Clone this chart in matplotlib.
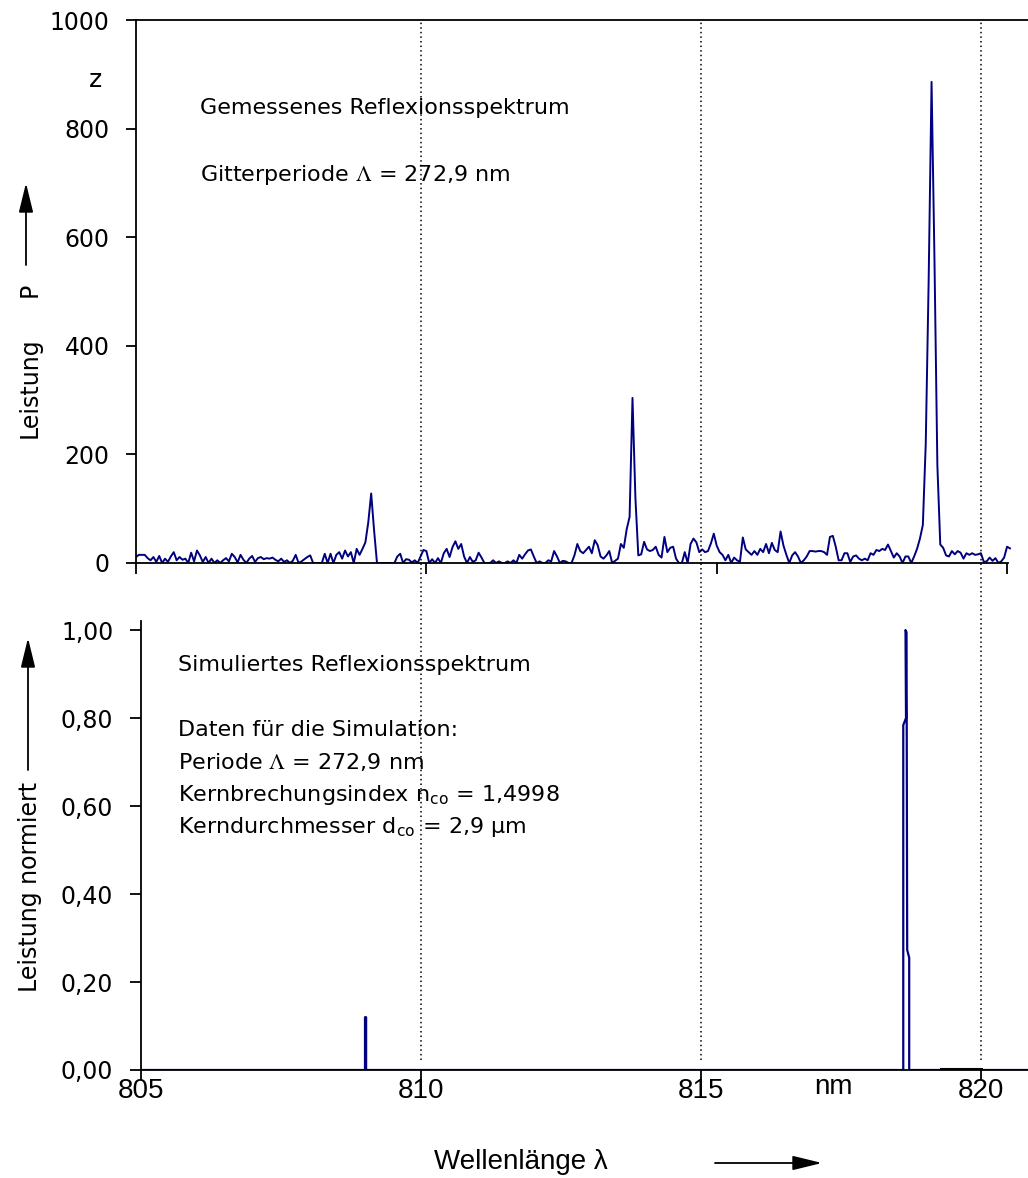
"""Gemessenes und simuliertes Reflexionsspektrum eines Faser-Bragg-Gitters."""

import numpy as np
import matplotlib
matplotlib.use("Agg")
import matplotlib.pyplot as plt
from matplotlib import transforms
from matplotlib.lines import Line2D
from matplotlib.patches import FancyArrowPatch

plt.rcParams["font.family"] = ["DejaVu Sans"]
plt.rcParams["mathtext.fontset"] = "stix"

# --- data --------------------------------------------------------------
# measured spectrum, sampled every 0.05 nm starting at 805 nm
meas_start = 805.0
meas_step = 0.05
meas_power = [
    11, 15, 15, 15, 9, 5, 11, 2, 13, 0, 8, 2, 12, 20, 5, 11, 6, 8, 0, 19,
    3, 23, 14, 2, 11, 0, 8, 0, 5, 0,
    5, 9, 3, 17, 11, 1, 15, 6, 0, 8, 13, 2, 9, 11, 7, 9, 8, 10, 6, 3,
    8, 2, 5, 0, 4, 15, 0, 3, 7, 11,
    14, 0, 0, 0, 0, 17, 0, 17, 0, 15, 20, 8, 23, 12, 20, 0, 26, 15, 26, 38,
    75, 128, 60, 0, 0, 0, 0, 0, 0, 0,
    12, 17, 0, 7, 6, 1, 5, 0, 12, 24, 22, 0, 7, 0, 9, 0, 18, 26, 11, 29,
    40, 26, 35, 12, 0, 11, 2, 5, 19, 10,
    0, 0, 0, 5, 0, 3, 0, 0, 3, 0, 5, 0, 15, 8, 16, 23, 25, 12, 0, 3,
    0, 0, 5, 3, 22, 12, 0, 4, 3, 0,
    0, 14, 35, 22, 18, 24, 30, 18, 42, 33, 12, 8, 14, 22, 0, 4, 8, 35, 28, 62,
    85, 304, 120, 14, 16, 39, 25, 22, 24, 30,
    15, 10, 48, 20, 28, 30, 8, 0, 0, 20, 0, 35, 45, 38, 20, 25, 20, 22, 36, 54,
    32, 20, 15, 5, 15, 0, 10, 5, 2, 47,
    25, 20, 15, 22, 15, 26, 20, 35, 18, 37, 24, 20, 58, 32, 15, 0, 14, 20, 12, 0,
    5, 12, 22, 22, 21, 22, 22, 20, 15, 48,
    50, 30, 5, 5, 18, 18, 2, 12, 14, 8, 5, 8, 5, 18, 15, 24, 22, 26, 24, 34,
    22, 10, 18, 12, 0, 12, 12, 0, 12, 26,
    45, 70, 220, 520, 886, 560, 180, 34, 28, 14, 12, 22, 16, 22, 19, 8, 18, 15, 18, 15,
    16, 18, 2, 3, 10, 4, 9, 0, 3, 10, 30, 27,
]

# simulated spectrum (normalised)
sim_wl = [805.0, 809.0, 809.0, 809.02, 809.02, 818.612, 818.612, 818.661,
          818.652, 818.670, 818.682, 818.718, 818.718, 820.84]
sim_power = [0, 0, 0.12, 0.12, 0, 0, 0.784, 0.80, 1.0, 0.995, 0.273, 0.255, 0, 0]
sim_tail_wl = [819.29, 820.0]
sim_tail_power = [0.003, 0.003]

x_ticks = [805, 810, 815, 820]
top_yticks = [0, 200, 400, 600, 800, 1000]
bot_yticks = [0.0, 0.2, 0.4, 0.6, 0.8, 1.0]
bot_ylabels = ["0,00", "0,20", "0,40", "0,60", "0,80", "1,00"]

NAVY = "#000080"
NARROW = ["Liberation Sans", "DejaVu Sans"]
W, H = 1028, 1178


def px_rect(l, t, r, b):
    return [l / W, 1 - b / H, (r - l) / W, (b - t) / H]


def fx(x):
    return x / W


def fy(y):
    return 1 - y / H


fig = plt.figure(figsize=(W / 100, H / 100), dpi=100)

# --- top: measured ----------------------------------------------------
ax1 = fig.add_axes(px_rect(136, 20, 1028, 563))
wl = meas_start + meas_step * np.arange(len(meas_power))
ax1.plot(wl, meas_power, color=NAVY, lw=1.4)
ax1.set_xlim(805, 805 + (1028 - 136) / 58.07)
ax1.set_ylim(0, 1000)
ax1.set_xticks(x_ticks)
ax1.set_yticks(top_yticks)
ax1.tick_params(axis="x", direction="out", length=8, width=1.3, labelbottom=False)
ax1.tick_params(axis="y", direction="out", length=7, width=1.3, labelsize=17, pad=12)
ax1.spines["right"].set_visible(False)
for s in ("left", "bottom", "top"):
    ax1.spines[s].set_linewidth(1.3)
ax1.spines["bottom"].set_bounds(805, 820.02)

# --- bottom: simulated ------------------------------------------------
ax2 = fig.add_axes(px_rect(141, 621, 1028, 1070))
ax2.plot(sim_wl, sim_power, color=NAVY, lw=1.6)
ax2.plot(sim_tail_wl, sim_tail_power, color="black", lw=2.2)
ax2.set_xlim(805, 805 + (1028 - 141) / 56)
ax2.set_ylim(0, 1.0205)
ax2.set_xticks(x_ticks)
ax2.set_xticklabels([str(v) for v in x_ticks], family=NARROW, fontsize=20)
ax2.set_yticks(bot_yticks)
ax2.set_yticklabels(bot_ylabels)
ax2.tick_params(axis="x", direction="out", length=7, width=1.3, pad=-1)
ax2.tick_params(axis="y", direction="out", length=8, width=1.3, labelsize=17, pad=12)
ax2.spines["right"].set_visible(False)
ax2.spines["top"].set_visible(False)
for s in ("left", "bottom"):
    ax2.spines[s].set_linewidth(1.3)

# dotted guide lines at the bottom axis ticks, running through both panels
blend = transforms.blended_transform_factory(ax2.transData, fig.transFigure)
for xv in x_ticks[1:]:
    fig.add_artist(Line2D([xv, xv], [fy(1060), fy(20)], transform=blend,
                          color="black", lw=1.1, ls=(0, (1, 2))))

# --- texts --------------------------------------------------------------
txt = dict(fontsize=16, va="center", ha="left")
fig.text(fx(95), fy(80), "z", fontsize=18, ha="center", va="center")
fig.text(fx(200), fy(108), "Gemessenes Reflexionsspektrum", **txt)
fig.text(fx(200), fy(175), r"Gitterperiode $\Lambda$ = 272,9 nm", **txt)

fig.text(fx(178), fy(665), "Simuliertes Reflexionsspektrum", **txt)
fig.text(fx(178), fy(730), "Daten für die Simulation:", **txt)
fig.text(fx(178), fy(762), r"Periode $\Lambda$ = 272,9 nm", **txt)
fig.text(fx(178), fy(795), r"Kernbrechungsindex n$_{\mathregular{co}}$ = 1,4998", **txt)
fig.text(fx(178), fy(827), r"Kerndurchmesser d$_{\mathregular{co}}$ = 2,9 µm", **txt)

ylab = dict(fontsize=17, rotation=90, ha="center", va="center")
fig.text(fx(30), fy(388), "Leistung", **ylab)
fig.text(fx(30), fy(290), "P", **ylab)
fig.text(fx(30), fy(887), "Leistung normiert", **ylab)
fig.text(fx(521), fy(1162), "Wellenlänge λ", fontsize=20, family=NARROW, ha="center", va="center")
fig.text(fx(833), fy(1087), "nm", fontsize=20, family=NARROW, ha="center", va="center")

arrow_style = "-|>,head_length=0.9,head_width=0.22"
for start, end in [((26, 265), (26, 183)), ((28, 770), (28, 638)), ((715, 1163), (822, 1163))]:
    fig.add_artist(FancyArrowPatch((fx(start[0]), fy(start[1])), (fx(end[0]), fy(end[1])),
                                   transform=fig.transFigure, arrowstyle=arrow_style,
                                   mutation_scale=20, lw=1.3, color="black",
                                   shrinkA=0, shrinkB=0))

fig.savefig("out.png", dpi=100)
